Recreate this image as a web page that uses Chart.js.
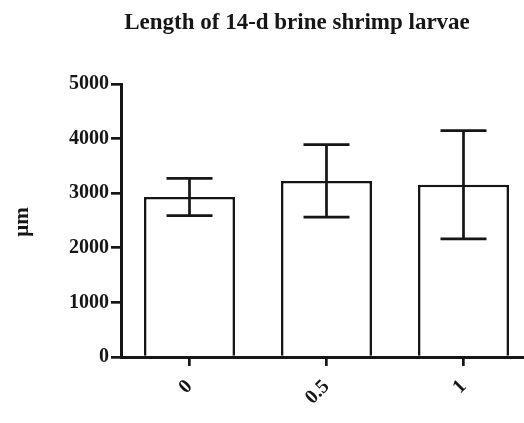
<!DOCTYPE html>
<html>
<head>
<meta charset="utf-8">
<script src="https://cdn.jsdelivr.net/npm/chart.js@4.4.1/dist/chart.umd.min.js"></script>
<style>
  html, body { margin: 0; padding: 0; background: #fff; overflow: hidden; }
  #wrap { width: 524px; height: 423px; overflow: hidden; }
</style>
</head>
<body>
<div id="wrap"><canvas id="shrimpChart" width="540" height="423"></canvas></div>
<script>
const doses = ['0', '0.5', '1'];
const meanLength = [2930, 3225, 3155];
const sdLength = [340, 665, 990];
const yTicks = [0, 1000, 2000, 3000, 4000, 5000];

const chartTitle = 'Length of 14-d brine shrimp larvae';
const yTitle = 'μm';

const ink = '#161616';
const serif = '"Liberation Serif", "Times New Roman", serif';

// draws the SD whiskers on top of each bar
const errorBars = {
    id: 'errorBars',
    afterDatasetsDraw(chart) {
        const ctx = chart.ctx;
        const y = chart.scales.y;
        const meta = chart.getDatasetMeta(0);
        ctx.save();
        ctx.strokeStyle = ink;
        ctx.lineWidth = 2.7;
        meta.data.forEach((bar, i) => {
            const top = y.getPixelForValue(meanLength[i] + sdLength[i]);
            const bot = y.getPixelForValue(meanLength[i] - sdLength[i]);
            const half = 23;
            ctx.beginPath();
            ctx.moveTo(bar.x, top);
            ctx.lineTo(bar.x, bot);
            ctx.moveTo(bar.x - half, top);
            ctx.lineTo(bar.x + half, top);
            ctx.moveTo(bar.x - half, bot);
            ctx.lineTo(bar.x + half, bot);
            ctx.stroke();
        });
        ctx.restore();
    }
};

// title and y axis label placed by hand
const labels = {
    id: 'labels',
    afterDraw(chart) {
        const ctx = chart.ctx;
        ctx.save();
        ctx.fillStyle = ink;
        ctx.font = 'bold 23px ' + serif;
        ctx.textAlign = 'center';
        ctx.textBaseline = 'alphabetic';
        ctx.fillText(chartTitle, 297, 28.5);

        ctx.font = 'bold 21px ' + serif;
        ctx.translate(28, 222);
        ctx.rotate(-Math.PI / 2);
        ctx.fillText(yTitle, 0, 0);
        ctx.restore();
    }
};

new Chart(document.getElementById('shrimpChart'), {
    type: 'bar',
    data: {
        labels: doses,
        datasets: [{
            data: meanLength,
            backgroundColor: '#ffffff',
            borderColor: ink,
            borderWidth: 2.6,
            barPercentage: 0.665,
            categoryPercentage: 1
        }]
    },
    options: {
        responsive: false,
        animation: false,
        layout: { padding: { top: 84, right: 8, left: 0, bottom: 0 } },
        plugins: {
            legend: { display: false },
            tooltip: { enabled: false },
            title: { display: false }
        },
        scales: {
            x: {
                afterFit: s => { s.height = 66; },
                border: { display: true, color: ink, width: 3 },
                grid: {
                    offset: false,
                    drawOnChartArea: false,
                    drawTicks: true,
                    tickLength: 9,
                    color: ink,
                    lineWidth: 2.7
                },
                ticks: {
                    color: ink,
                    font: { family: serif, size: 20, weight: 'bold' },
                    minRotation: 45,
                    maxRotation: 45,
                    padding: 9
                }
            },
            y: {
                min: 0,
                max: 5000,
                afterFit: s => { s.width = 121; },
                afterBuildTicks: s => { s.ticks = yTicks.map(v => ({ value: v })); },
                border: { display: true, color: ink, width: 3 },
                grid: {
                    drawOnChartArea: false,
                    drawTicks: true,
                    tickLength: 10,
                    color: ink,
                    lineWidth: 2.7
                },
                ticks: {
                    color: ink,
                    padding: 2,
                    font: { family: serif, size: 20, weight: 'bold' },
                    callback: v => String(v)
                }
            }
        }
    },
    plugins: [errorBars, labels]
});
</script>
</body>
</html>
